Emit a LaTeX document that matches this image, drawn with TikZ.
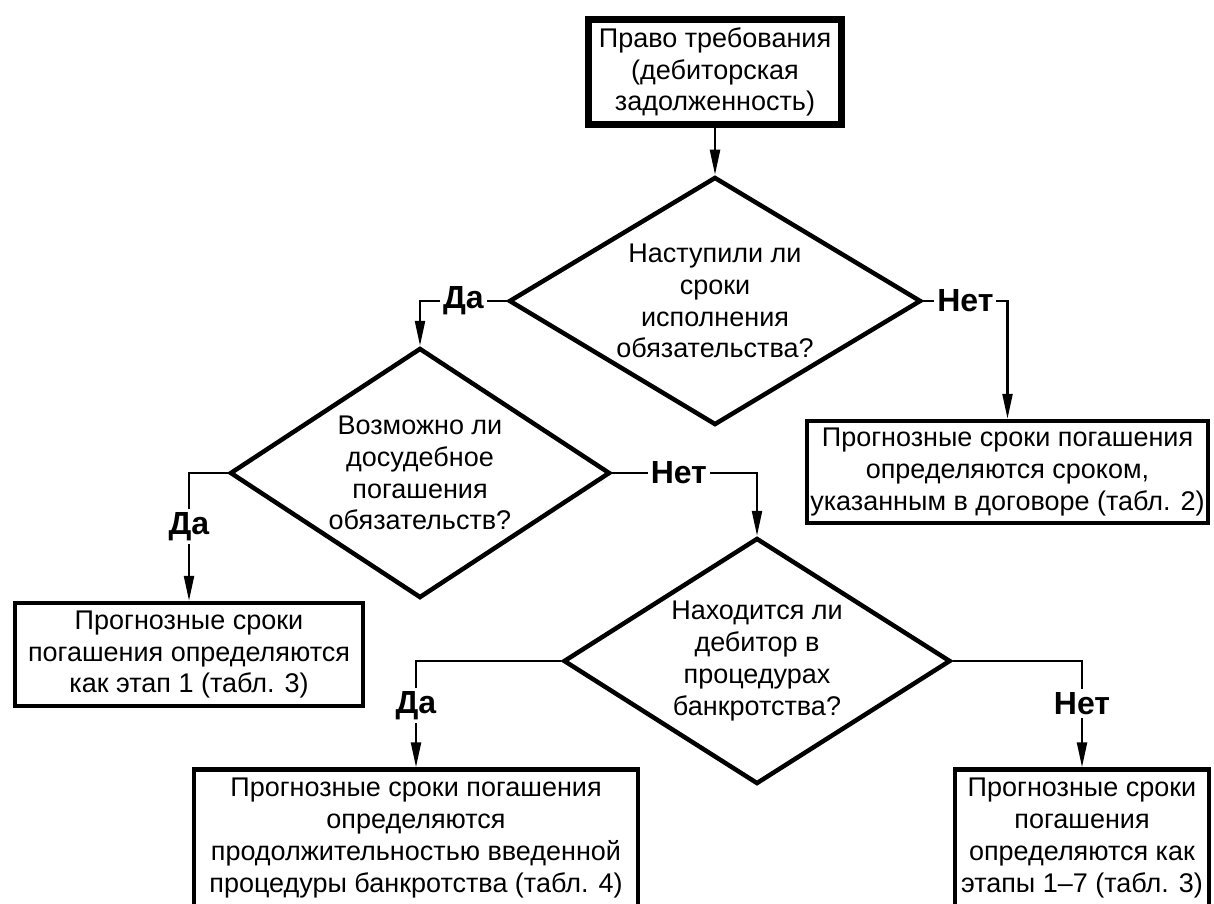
\documentclass[tikz,border=0pt]{standalone}
\usepackage{fontspec}
\setmainfont{Liberation Sans}
\usetikzlibrary{shapes.geometric,arrows.meta}

\begin{document}
\begin{tikzpicture}[x=1pt, y=-1pt, >={Triangle[length=25pt,width=10pt]},
    every node/.style={font=\fontsize{27}{31.7}\selectfont, align=center},
    box/.style={draw, line width=4.5pt, inner sep=0pt},
    decision/.style={draw, diamond, line width=4.5pt, inner sep=0pt, aspect=1.6},
    answer/.style={fill=white, inner sep=3pt, font=\fontsize{32}{32}\bfseries\selectfont},
    link/.style={->, line width=2.3pt}]
  \useasboundingbox (0,0) rectangle (1214,903);
  \clip (0,0) rectangle (1214,903);

  \node[box, line width=6.5pt, minimum width=253pt, minimum height=105pt] (claim) at (715,72)
    {Право требования\\(дебиторская\\задолженность)};
  \node[decision, minimum width=412pt, minimum height=248pt] (due) at (715,301)
    {Наступили ли\\сроки\\исполнения\\обязательства?};
  \node[decision, minimum width=380pt, minimum height=250pt] (pretrial) at (420,473)
    {Возможно ли\\досудебное\\погашения\\обязательств?};
  \node[decision, minimum width=387pt, minimum height=246pt] (bankrupt) at (757,661)
    {Находится ли\\дебитор в\\процедурах\\банкротства?};

  \node[box, minimum width=401pt, minimum height=102pt] (contract) at (1007.5,472)
    {Прогнозные сроки погашения\\определяются сроком,\\указанным в договоре (табл. 2)};
  \node[box, minimum width=348pt, minimum height=103pt] (stageone) at (189,654.5)
    {Прогнозные сроки\\погашения определяются\\как этап 1 (табл. 3)};
  \node[box, minimum width=444pt, minimum height=137pt] (procedure) at (416,838)
    {Прогнозные сроки погашения\\определяются\\продолжительностью введенной\\процедуры банкротства (табл. 4)};
  \node[box, minimum width=254pt, minimum height=137pt] (stages) at (1082,838)
    {Прогнозные сроки\\погашения\\определяются как\\этапы 1–7 (табл. 3)};

  \draw[link] (claim) -- (due);
  \draw[link] (due.west) -| node[answer, pos=0.25] {Да} (pretrial.north);
  \draw[link] (due.east) -| node[answer, pos=0.25] {Нет} (contract.north);
  \draw[link] (pretrial.west) -| node[answer, pos=0.71] {Да} (stageone.north);
  \draw[link] (pretrial.east) -| node[answer, pos=0.23] {Нет} (bankrupt.north);
  \draw[link] (bankrupt.west) -| node[answer, pos=0.71] {Да} (procedure.north);
  \draw[link] (bankrupt.east) -| node[answer, pos=0.7] {Нет} (stages.north);
\end{tikzpicture}
\end{document}
